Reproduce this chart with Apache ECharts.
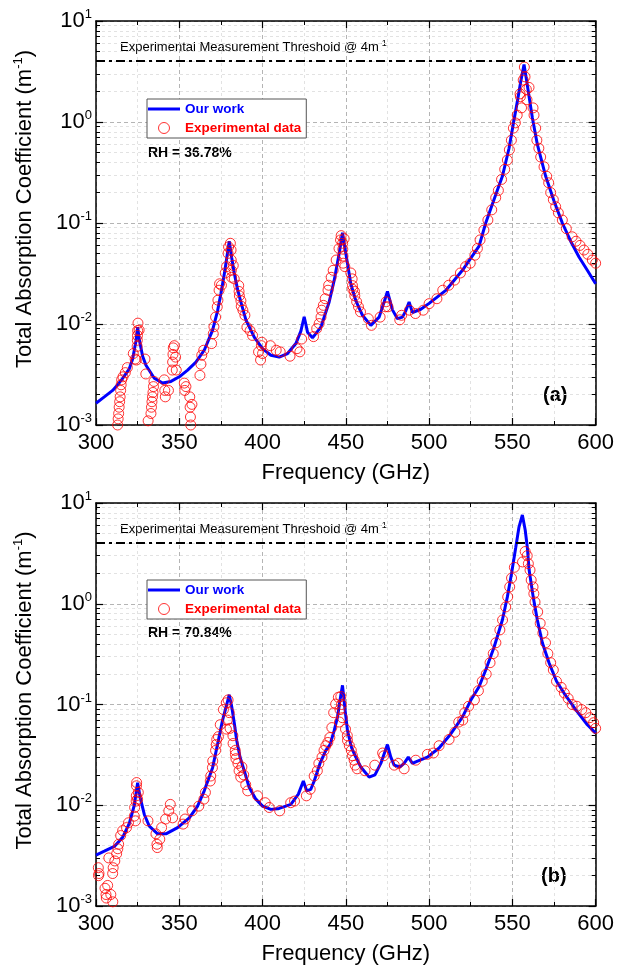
<!DOCTYPE html>
<html>
<head>
<meta charset="utf-8">
<title>Total absorption coefficient</title>
<script src="https://cdn.jsdelivr.net/npm/echarts@6/dist/echarts.min.js"></script>
<style>
    html, body { margin: 0; padding: 0; background: #fff; }
    #chart { width: 617px; height: 973px; }
</style>
</head>
<body>
<div id="chart"></div>
<script>
// ------------------------------
// Data
// ------------------------------

// Panel (a), RH = 36.78% - model curve
var fitA_freq = [300, 305, 310, 313, 316, 320, 322, 324, 325, 326, 328, 330, 335, 340, 345, 350, 355, 360, 365, 370,
    373, 375, 377, 378.5, 380, 381.5, 383, 385, 387, 390, 395, 400, 405, 410, 415, 420, 423, 425, 427, 430,
    435, 440, 443, 446, 448, 450, 453, 456, 460, 465, 470, 473, 475, 478, 481, 484, 486, 488, 490, 495,
    500, 510, 520, 530, 534, 540, 544, 548, 551, 553, 555, 557, 558.5, 560, 562, 565, 570, 575, 580, 585,
    590, 595, 600];
var fitA_vals = [0.00164, 0.0019, 0.0022, 0.0025, 0.0029, 0.0036, 0.0045, 0.0068, 0.0093, 0.0070, 0.0048, 0.0039, 0.0029, 0.0026, 0.0027, 0.0030, 0.0035, 0.0042, 0.0055, 0.0087,
    0.0135, 0.020, 0.031, 0.045, 0.066, 0.045, 0.032, 0.022, 0.0165, 0.011, 0.0074, 0.0057, 0.0049, 0.0047, 0.0051, 0.0064, 0.0085, 0.0118, 0.0083, 0.0073,
    0.0093, 0.0165, 0.027, 0.050, 0.080, 0.050, 0.025, 0.017, 0.0122, 0.0097, 0.0117, 0.0165, 0.021, 0.0138, 0.0113, 0.0117, 0.0135, 0.0165, 0.013, 0.014,
    0.016, 0.0215, 0.034, 0.059, 0.10, 0.19, 0.29, 0.55, 1.05, 1.6, 2.5, 3.7, 2.6, 1.8, 1.1, 0.6, 0.29, 0.165, 0.10, 0.066,
    0.046, 0.034, 0.025];

// Panel (a) - experimental points
var expA_freq = [313, 313.3, 313.6, 313.9, 314.2, 314.5, 314.8, 315.1, 315.4, 316.2, 317.6, 318.8, 322.4, 323.5, 324.2, 324.7, 324.8, 324.9, 325, 325.2,
    325.9, 329.4, 329.9, 331.3, 333, 333.3, 333.6, 333.9, 334.2, 334.5, 334.8, 341, 341.3, 341.6, 343.5, 345.8, 346, 346.2, 346.4, 347,
    347.8, 348.2, 353, 353.3, 354, 356.3, 356.5, 356.7, 356.9, 357.6, 362.4, 363, 363.5, 364.7, 369.4, 370.4, 370.8, 371.8, 372.8, 373.2,
    373.9, 374.2, 375.3, 377.6, 378.4, 379.3, 379.6, 380.7, 381.1, 381.2, 381.3, 381.4, 382.4, 383, 385.7, 385.9, 386.1, 387, 387.2, 388.2,
    389.4, 390.6, 392.5, 394, 397.6, 398.8, 399.3, 399.6, 400, 404.7, 408.2, 410.6, 416.5, 420.7, 422.4, 423.5, 430.6, 432.5, 434, 435.1,
    435.5, 436.5, 437.6, 439.3, 439.7, 441.2, 442.4, 444.2, 445.9, 446.8, 447.2, 448.1, 448.2, 448.3, 448.4, 449, 449.4, 453, 453.8, 454,
    454.2, 455.2, 455.4, 456.5, 457.6, 458.8, 463.5, 465.4, 470.6, 473.8, 474.2, 475.3, 482.4, 483.5, 488.2, 491.8, 496.5, 500, 504.7, 508.2,
    511.8, 515.3, 518.8, 521.9, 524.7, 527.5, 529, 530.6, 532.9, 535.3, 537.6, 540, 541.6, 543.5, 545.4, 547, 548.2, 549.4, 550.6, 551.8,
    552.9, 554.6, 554.8, 555.5, 556.5, 557.2, 557.6, 558.4, 558.8, 560, 562.4, 563, 564, 564.7, 565.9, 567, 569, 570.6, 571.8, 573,
    574.6, 576, 577.6, 580, 582.4, 585.9, 588.2, 590.6, 593, 595.3, 598, 600];
var expA_vals = [0.0010, 0.00115, 0.0013, 0.0015, 0.0017, 0.0019, 0.0022, 0.0025, 0.0028, 0.0030, 0.0033, 0.0037, 0.0051, 0.0045, 0.0044, 0.0060, 0.0069, 0.0077, 0.0086, 0.0102,
    0.0087, 0.0045, 0.0032, 0.0011, 0.0013, 0.0015, 0.0017, 0.0019, 0.0021, 0.0024, 0.0027, 0.0028, 0.0022, 0.0019, 0.0022, 0.0035, 0.0042, 0.0050, 0.0058, 0.0061,
    0.0047, 0.0035, 0.0026, 0.0022, 0.0024, 0.0019, 0.0015, 0.0012, 0.0010, 0.0016, 0.0031, 0.0040, 0.0049, 0.0055, 0.0064, 0.0080, 0.0094, 0.0117, 0.0148, 0.0172,
    0.0216, 0.025, 0.0242, 0.032, 0.037, 0.050, 0.058, 0.063, 0.054, 0.043, 0.034, 0.029, 0.038, 0.028, 0.024, 0.021, 0.019, 0.017, 0.015, 0.0137,
    0.0122, 0.0093, 0.0086, 0.0077, 0.0053, 0.0044, 0.0061, 0.0066, 0.0051, 0.0061, 0.0055, 0.0053, 0.0048, 0.0057, 0.0053, 0.0071, 0.0075, 0.0090, 0.0101, 0.0117,
    0.0137, 0.0153, 0.0178, 0.0216, 0.0242, 0.029, 0.034, 0.043, 0.056, 0.068, 0.075, 0.063, 0.055, 0.047, 0.040, 0.070, 0.037, 0.032, 0.028, 0.024,
    0.022, 0.021, 0.019, 0.0166, 0.0148, 0.0132, 0.0113, 0.0097, 0.0117, 0.0148, 0.0166, 0.0148, 0.0110, 0.0122, 0.0137, 0.0127, 0.0137, 0.0159, 0.0178, 0.0216,
    0.0242, 0.0272, 0.032, 0.037, 0.040, 0.048, 0.056, 0.068, 0.085, 0.107, 0.135, 0.178, 0.21, 0.27, 0.34, 0.42, 0.53, 0.66, 0.87, 0.98,
    1.17, 1.9, 1.78, 1.38, 2.6, 3.5, 2.8, 2.1, 1.66, 2.2, 1.38, 1.17, 0.87, 0.66, 0.55, 0.45, 0.36, 0.29, 0.25, 0.20,
    0.17, 0.145, 0.126, 0.107, 0.088, 0.073, 0.066, 0.060, 0.054, 0.049, 0.043, 0.040];

// Panel (b), RH = 70.84% - model curve
var fitB_freq = [300, 305, 311, 316, 320, 323, 325, 326.5, 329, 332, 337, 342, 349, 356, 361, 365, 370, 373.5, 376, 378.5,
    380, 381.5, 383, 384.5, 386.5, 389, 392, 396, 400, 405, 410, 417, 421.5, 424.5, 426.5, 429, 431, 434.5, 438, 440.5,
    443, 445, 446.5, 448, 449.5, 451, 453.5, 456, 459, 464, 467.5, 471, 475, 477, 479, 482.5, 485, 487.5, 490, 492,
    499, 506, 513, 520, 525, 530, 534, 539, 544, 547, 549.5, 552, 554, 556, 557.7, 559, 560, 562.5, 565, 568,
    572, 576.5, 581, 588, 595, 600];
var fitB_vals = [0.0032, 0.0035, 0.0039, 0.0048, 0.0066, 0.0100, 0.0167, 0.012, 0.0081, 0.0062, 0.0052, 0.0052, 0.0060, 0.0075, 0.0098, 0.0139, 0.0236, 0.044, 0.070, 0.100,
    0.125, 0.095, 0.066, 0.044, 0.030, 0.022, 0.015, 0.0115, 0.0098, 0.0091, 0.0093, 0.0102, 0.0129, 0.0174, 0.0139, 0.0144, 0.0174, 0.026, 0.035, 0.040,
    0.055, 0.075, 0.11, 0.155, 0.09, 0.055, 0.037, 0.030, 0.024, 0.019, 0.020, 0.026, 0.040, 0.030, 0.025, 0.024, 0.026, 0.030, 0.026, 0.027,
    0.030, 0.037, 0.051, 0.075, 0.11, 0.15, 0.22, 0.37, 0.69, 1.17, 2.0, 3.6, 5.8, 7.6, 5.4, 3.6, 2.2, 1.17, 0.69, 0.41,
    0.26, 0.17, 0.13, 0.089, 0.063, 0.052];

// Panel (b) - experimental points
var expB_freq = [301.4, 301.5, 301.8, 305.4, 306, 306.2, 307, 307.7, 308.9, 310.1, 310, 310.3, 311.3, 312.4, 313.1, 313.6, 314.8, 316, 318.3, 319.5,
    323, 323.2, 323.7, 324.1, 324.2, 324.3, 324.4, 325.4, 325, 331.2, 336, 336.6, 336.8, 338.3, 339.4, 341.8, 343.7, 344.6, 346, 352.3,
    353.5, 357.7, 361.7, 364.8, 365.7, 368.6, 368.9, 369.9, 370.1, 371.8, 372.2, 372.5, 373.5, 374.6, 376.5, 378.2, 378.3, 378.8, 379.3, 380,
    380.5, 382.2, 382.3, 383.6, 383.7, 384, 385.2, 385.9, 386.9, 387.6, 388.7, 389.9, 391.1, 397, 401.6, 404, 410.3, 416.9, 419.2, 426.3,
    428.6, 431, 432.9, 433.8, 435.7, 436.9, 438, 439.2, 440.4, 441.6, 442.7, 443.9, 445.5, 446.2, 446.5, 447, 447.4, 447.9, 449.8, 450.9,
    451, 452.1, 453.3, 454, 455, 455.6, 456.8, 461.5, 467.4, 472.1, 472.8, 479.1, 481.5, 485, 492, 499, 502.6, 506, 512, 515.5,
    517.8, 520.2, 521.4, 523.7, 527.2, 529.6, 531.9, 534.3, 536.6, 538.5, 540.1, 542.5, 544.1, 546, 547.2, 548.4, 549.5, 551.2, 556.1, 557.7,
    558.9, 559.6, 560.6, 561.3, 562.4, 562.9, 563.6, 565.2, 566.7, 568.3, 569.9, 571.3, 573, 574.6, 576.5, 579.3, 581.2, 583.5, 585.9, 588.7,
    591.7, 594.1, 596.5, 598.8, 600];
var expB_vals = [0.0024, 0.0020, 0.0021, 0.0015, 0.0013, 0.0012, 0.0016, 0.0030, 0.0013, 0.0011, 0.0021, 0.0024, 0.0028, 0.0033, 0.0037, 0.0041, 0.0050, 0.0056, 0.0060, 0.0067,
    0.0078, 0.0095, 0.0070, 0.0110, 0.0124, 0.0156, 0.0168, 0.0134, 0.0115, 0.0070, 0.0052, 0.0041, 0.0038, 0.0046, 0.0060, 0.0073, 0.0088, 0.0102, 0.0075, 0.0065,
    0.0073, 0.0088, 0.0098, 0.0115, 0.0134, 0.0174, 0.0195, 0.0236, 0.0275, 0.035, 0.040, 0.045, 0.048, 0.063, 0.089, 0.104, 0.057, 0.070, 0.111, 0.083,
    0.058, 0.049, 0.041, 0.035, 0.032, 0.029, 0.026, 0.022, 0.019, 0.024, 0.020, 0.016, 0.0139, 0.0124, 0.0106, 0.0095, 0.0088, 0.0106, 0.0110, 0.0124,
    0.0144, 0.0195, 0.022, 0.026, 0.030, 0.035, 0.039, 0.042, 0.047, 0.059, 0.083, 0.101, 0.118, 0.067, 0.089, 0.120, 0.100, 0.074, 0.057, 0.049,
    0.044, 0.039, 0.035, 0.031, 0.028, 0.025, 0.023, 0.022, 0.025, 0.033, 0.031, 0.025, 0.026, 0.023, 0.028, 0.032, 0.033, 0.039, 0.045, 0.053,
    0.067, 0.070, 0.083, 0.096, 0.111, 0.137, 0.17, 0.20, 0.26, 0.32, 0.41, 0.55, 0.69, 0.93, 1.17, 1.47, 1.8, 2.3, 2.6, 3.3,
    3.0, 2.5, 2.16, 1.72, 1.47, 1.26, 1.04, 0.83, 0.64, 0.51, 0.41, 0.32, 0.26, 0.22, 0.17, 0.148, 0.13, 0.115, 0.10, 0.096,
    0.089, 0.083, 0.074, 0.066, 0.058];

var thresholdValue = 4;
var panelLabels = ['(a)', '(b)'];
var humidityLabels = ['RH = 36.78%', 'RH = 70.84%'];


// ------------------------------
// Setup module
// ------------------------------

var AbsorptionChart = function() {

    var FONT = 'Arial, "Liberation Sans", sans-serif';
    var BLUE = '#0000ff';
    var RED = '#ff0000';

    // Zip two arrays into [x, y] pairs
    var pairs = function(xs, ys) {
        return xs.map(function(x, i) { return [x, ys[i]]; });
    };

    // Grid boxes (a) and (b)
    var grids = [
        { left: 96, right: 18, top: 21, height: 404 },
        { left: 96, right: 18, top: 503, height: 403 }
    ];

    var _xAxis = function(i, bottom) {
        return {
            type: 'value',
            gridIndex: i,
            position: bottom ? 'bottom' : 'top',
            min: 300,
            max: 600,
            interval: 50,
            name: bottom ? 'Frequency (GHz)' : '',
            nameLocation: 'middle',
            nameGap: 37,
            nameTextStyle: { fontFamily: FONT, fontSize: 22, color: '#000' },
            axisLine: { show: true, onZero: false, lineStyle: { color: '#000', width: 1.5 } },
            axisTick: { show: true, inside: true, length: 7, lineStyle: { color: '#000', width: 1.2 } },
            minorTick: { show: true, splitNumber: 2, length: 4, lineStyle: { color: '#000', width: 1 } },
            axisLabel: { show: bottom, margin: 7, fontFamily: FONT, fontSize: 22, color: '#000' },
            splitLine: { show: bottom, lineStyle: { color: '#b4b4b4', type: [4, 3], width: 1 } },
            minorSplitLine: { show: bottom, lineStyle: { color: '#e2e2e2', type: [3, 3], width: 1 } }
        };
    };

    var _yAxis = function(i, left) {
        return {
            type: 'log',
            logBase: 10,
            gridIndex: i,
            position: left ? 'left' : 'right',
            min: 0.001,
            max: 10,
            name: left ? '{t|Total Absorption Coefficient (m}{s|-1}{t|)}' : '',
            nameLocation: 'middle',
            nameGap: 58,
            nameTextStyle: {
                padding: [0, 0, 0, 28],
                rich: {
                    t: { fontFamily: FONT, fontSize: 22, color: '#000', lineHeight: 26 },
                    s: { fontFamily: FONT, fontSize: 13, color: '#000', lineHeight: 14, verticalAlign: 'top' }
                }
            },
            axisLine: { show: true, lineStyle: { color: '#000', width: 1.5 } },
            axisTick: { show: true, inside: true, length: 7, lineStyle: { color: '#000', width: 1.2 } },
            minorTick: { show: true, splitNumber: 9, length: 4, lineStyle: { color: '#000', width: 1 } },
            axisLabel: {
                show: left,
                margin: 4,
                formatter: function(v) {
                    return '{b|10}{s|' + Math.round(Math.log10(v)) + '}';
                },
                rich: {
                    b: { fontFamily: FONT, fontSize: 22, color: '#000', lineHeight: 26 },
                    s: { fontFamily: FONT, fontSize: 13, color: '#000', lineHeight: 14, verticalAlign: 'top' }
                }
            },
            splitLine: { show: left, lineStyle: { color: '#b4b4b4', type: [4, 3], width: 1 } },
            minorSplitLine: { show: left, lineStyle: { color: '#e2e2e2', type: [3, 3], width: 1 } }
        };
    };

    var _lineSeries = function(i, xs, ys) {
        return {
            name: 'Our work',
            type: 'line',
            xAxisIndex: i * 2,
            yAxisIndex: i * 2,
            data: pairs(xs, ys),
            showSymbol: false,
            symbol: 'none',
            lineStyle: { color: BLUE, width: 3 },
            itemStyle: { color: BLUE },
            z: 3,
            markLine: {
                silent: true,
                symbol: ['none', 'none'],
                label: { show: false },
                lineStyle: { color: '#000', type: [9, 4, 3, 4], width: 2 },
                data: [{ yAxis: thresholdValue }]
            }
        };
    };

    var _scatterSeries = function(i, xs, ys) {
        return {
            name: 'Experimental data',
            type: 'scatter',
            xAxisIndex: i * 2,
            yAxisIndex: i * 2,
            data: pairs(xs, ys),
            symbol: 'circle',
            symbolSize: 10,
            itemStyle: { color: 'rgba(255,255,255,0)', borderColor: RED, borderWidth: 1 },
            z: 4
        };
    };

    var _legend = function(top) {
        return {
            orient: 'vertical',
            left: 147,
            top: top,
            padding: [3, 5, 3, 1],
            itemGap: 5,
            itemWidth: 32,
            itemHeight: 11,
            borderColor: '#555',
            borderWidth: 1,
            backgroundColor: '#fff',
            selectedMode: false,
            data: [
                { name: 'Our work', icon: 'path://M0,0 L32,0 L32,3 L0,3 Z', textStyle: { color: BLUE } },
                { name: 'Experimental data', icon: 'circle',
                  itemStyle: { color: 'rgba(255,255,255,0)', borderColor: RED, borderWidth: 1 },
                  textStyle: { color: RED } }
            ],
            textStyle: { fontFamily: FONT, fontSize: 13.5, fontWeight: 'bold' }
        };
    };

    var _threshText = function(top) {
        return {
            type: 'text',
            left: 120,
            top: top,
            style: {
                text: '{t|Experimental Measurement Threshold @ 4m}{s|-1}',
                rich: {
                    t: { fontFamily: FONT, fontSize: 13, fill: '#000', lineHeight: 16 },
                    s: { fontFamily: FONT, fontSize: 9, fill: '#000', lineHeight: 9, verticalAlign: 'top' }
                }
            }
        };
    };

    var _plainText = function(left, top, text, size) {
        return {
            type: 'text',
            left: left,
            top: top,
            style: { text: text, fontFamily: FONT, fontSize: size, fontWeight: 'bold', fill: '#000' }
        };
    };

    var _chart = function() {
        if (typeof echarts == 'undefined') {
            console.warn('Warning - echarts.min.js is not loaded.');
            return;
        }

        var element = document.getElementById('chart');
        var chart = echarts.init(element, null, { renderer: 'canvas' });

        var options = {
            animation: false,
            backgroundColor: '#fff',
            grid: grids,
            xAxis: [_xAxis(0, true), _xAxis(0, false), _xAxis(1, true), _xAxis(1, false)],
            yAxis: [_yAxis(0, true), _yAxis(0, false), _yAxis(1, true), _yAxis(1, false)],
            legend: [_legend(99), _legend(580)],
            graphic: [
                _threshText(39),
                _threshText(521),
                _plainText(148, 146, humidityLabels[0], 14),
                _plainText(148, 626, humidityLabels[1], 14),
                _plainText(543, 385, panelLabels[0], 20),
                _plainText(541, 866, panelLabels[1], 20)
            ],
            series: [
                _lineSeries(0, fitA_freq, fitA_vals),
                _scatterSeries(0, expA_freq, expA_vals),
                _lineSeries(1, fitB_freq, fitB_vals),
                _scatterSeries(1, expB_freq, expB_vals)
            ]
        };

        chart.setOption(options);
    };

    return {
        init: function() {
            _chart();
        }
    };
}();

document.addEventListener('DOMContentLoaded', function() {
    AbsorptionChart.init();
});
</script>
</body>
</html>
